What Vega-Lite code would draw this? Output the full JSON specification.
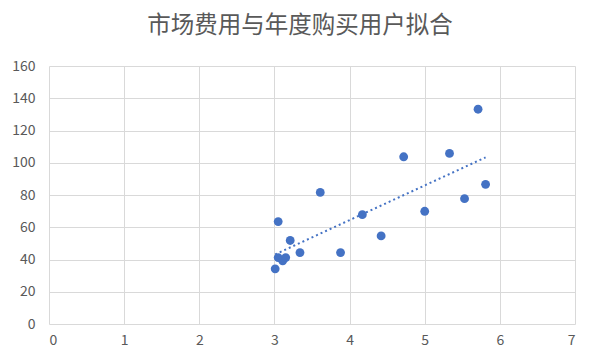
{
  "$schema": "https://vega.github.io/schema/vega-lite/v6.json",
  "width": 526,
  "height": 258,
  "autosize": {"type": "none"},
  "padding": {"left": 49, "top": 66, "right": 25, "bottom": 37},
  "background": "white",
  "title": {
    "text": "市场费用与年度购买用户拟合",
    "font": "Noto Sans CJK SC",
    "fontSize": 23.5,
    "fontWeight": "normal",
    "color": "#595959",
    "anchor": "middle",
    "dx": -12,
    "offset": 22
  },
  "config": {
    "view": {"stroke": null},
    "axis": {
      "labelFont": "Noto Sans CJK SC",
      "labelFontSize": 14,
      "labelColor": "#595959",
      "gridColor": "#d9d9d9",
      "gridWidth": 1,
      "domain": false,
      "ticks": false,
      "title": null,
      "labelOverlap": false
    }
  },
  "data": {
    "values": [
      {"fee": 5.71, "users": 133.2},
      {"fee": 4.72, "users": 103.7},
      {"fee": 5.33, "users": 105.8},
      {"fee": 5.81, "users": 86.6},
      {"fee": 5.53, "users": 77.7},
      {"fee": 5.0, "users": 69.9},
      {"fee": 3.61, "users": 81.6},
      {"fee": 4.17, "users": 67.8},
      {"fee": 4.42, "users": 54.6},
      {"fee": 3.05, "users": 63.5},
      {"fee": 3.21, "users": 51.8},
      {"fee": 3.34, "users": 44.3},
      {"fee": 3.88, "users": 44.3},
      {"fee": 3.05, "users": 41.2},
      {"fee": 3.11, "users": 39.2},
      {"fee": 3.15, "users": 41.2},
      {"fee": 3.01, "users": 34.2}
    ]
  },
  "encoding": {
    "x": {"field": "fee", "type": "quantitative", "scale": {"domain": [0, 7], "nice": false, "zero": true}, "axis": {"values": [0,1,2,3,4,5,6,7], "format": "d", "labelPadding": 9, "grid": true}},
    "y": {"field": "users", "type": "quantitative", "scale": {"domain": [0, 160], "nice": false}, "axis": {"values": [0,20,40,60,80,100,120,140,160], "format": "d", "labelPadding": 14, "grid": true}}
  },
  "layer": [
    {
      "mark": {"type": "point", "filled": true, "size": 78, "opacity": 1, "color": "#4472C4"}
    },
    {
      "transform": [{"regression": "users", "on": "fee"}],
      "mark": {"type": "line", "color": "#4472C4", "strokeWidth": 2, "strokeDash": [2, 3]}
    },
    {
      "data": {"values": [{"label": "R² = 0.6365"}]},
      "mark": {"type": "text", "font": "Noto Sans CJK SC", "fontSize": 13.5, "color": "#595959", "align": "center", "baseline": "middle"},
      "encoding": {
        "x": {"datum": 4.0, "type": "quantitative"},
        "y": {"datum": 115, "type": "quantitative"},
        "text": {"field": "label"}
      }
    }
  ]
}
